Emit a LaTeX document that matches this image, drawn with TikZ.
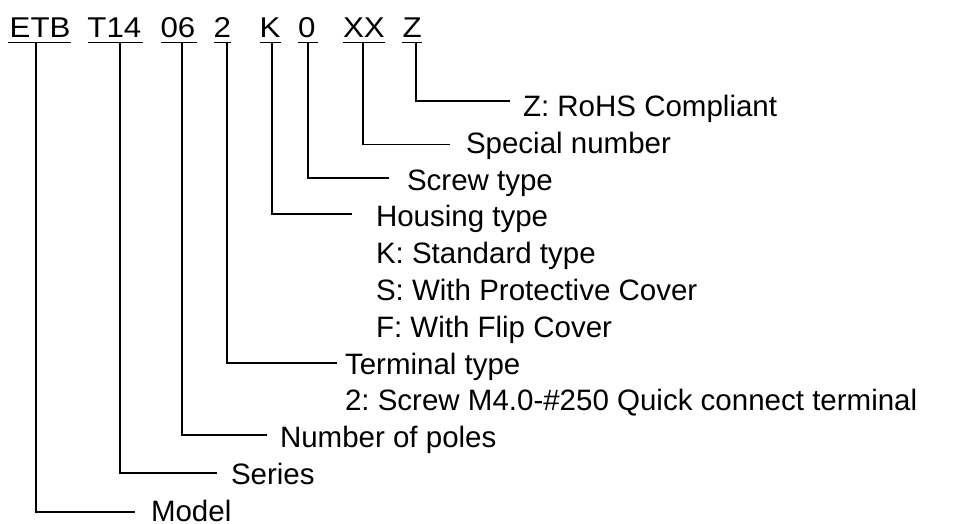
\documentclass[tikz,border=0pt]{standalone}
\usepackage{fontspec}
\setmainfont{Liberation Sans}
\frenchspacing
\begin{document}
\begin{tikzpicture}[x=1pt,y=-1pt,
  txt/.style={anchor=base west,inner sep=0pt,outer sep=0pt,font=\fontsize{29.5}{36}\selectfont},
  code/.style={txt},
  conn/.style={line width=1.4pt,black},
  uline/.style={line width=1.4pt,black}]
\useasboundingbox (0,0) rectangle (968,523);
% code tokens
\newcommand\cw[1]{\scalebox{1.06}[0.97]{#1}}
\node[code] (cETB) at (9.7,37) {\cw{ETB}};
\node[code] (cT) at (87.4,37) {\cw{T14}};
\node[code] (cN) at (160.5,37) {\cw{06}};
\node[code] (c2) at (213.5,37) {\cw{2}};
\node[code] (cK) at (259.5,37) {\cw{K}};
\node[code] (c0) at (298,37) {\cw{0}};
\node[code] (cX) at (343,37) {\cw{XX}};
\node[code] (cZ) at (402.7,37) {\cw{Z}};
% underlines
\draw[uline] (8.3,42.3) -- (70.7,42.3);
\draw[uline] (88.3,42.3) -- (143.3,42.3);
\draw[uline] (161,42.3) -- (196.7,42.3);
\draw[uline] (214,42.3) -- (230.7,42.3);
\draw[uline] (260,42.3) -- (281,42.3);
\draw[uline] (298.3,42.3) -- (318.3,42.3);
\draw[uline] (342.7,42.3) -- (385,42.3);
\draw[uline] (401.7,42.3) -- (421.7,42.3);
% labels
\node[txt] (lZ) at (523,116.5) {Z: RoHS Compliant};
\node[txt] (lX) at (466,153.3) {Special number};
\node[txt] (l0) at (407,190.1) {Screw type};
\node[txt] (lK) at (376,226.9) {Housing type};
\node[txt] (lK1) at (376,263.7) {K: Standard type};
\node[txt] (lK2) at (376,300.5) {S: With Protective Cover};
\node[txt] (lK3) at (376,337.3) {F: With Flip Cover};
\node[txt] (l2) at (345,374.1) {Terminal type};
\node[txt] (l21) at (345,410.9) {2: Screw M4.0-\#250 Quick connect terminal};
\node[txt] (lN) at (280,447.7) {Number of poles};
\node[txt] (lT) at (231,484.5) {Series};
\node[txt] (lE) at (151,521) {Model};
% connector end points
\coordinate (sETB) at (36,42.3);   \coordinate (eETB) at (135,512);
\coordinate (sT) at (120,42.3);    \coordinate (eT) at (217,473);
\coordinate (sN) at (182,42.3);    \coordinate (eN) at (267,435);
\coordinate (s2) at (227,42.3);    \coordinate (e2) at (337,363);
\coordinate (sK) at (272,42.3);    \coordinate (eK) at (352,214);
\coordinate (s0) at (308,42.3);    \coordinate (e0) at (389,178);
\coordinate (sX) at (363,42.3);    \coordinate (eX) at (450,144.5);
\coordinate (sZ) at (416,42.3);    \coordinate (eZ) at (510,101);
\draw[conn] (sETB) |- (eETB);
\draw[conn] (sT) |- (eT);
\draw[conn] (sN) |- (eN);
\draw[conn] (s2) |- (e2);
\draw[conn] (sK) |- (eK);
\draw[conn] (s0) |- (e0);
\draw[conn] (sX) |- (eX);
\draw[conn] (sZ) |- (eZ);
\end{tikzpicture}
\end{document}
